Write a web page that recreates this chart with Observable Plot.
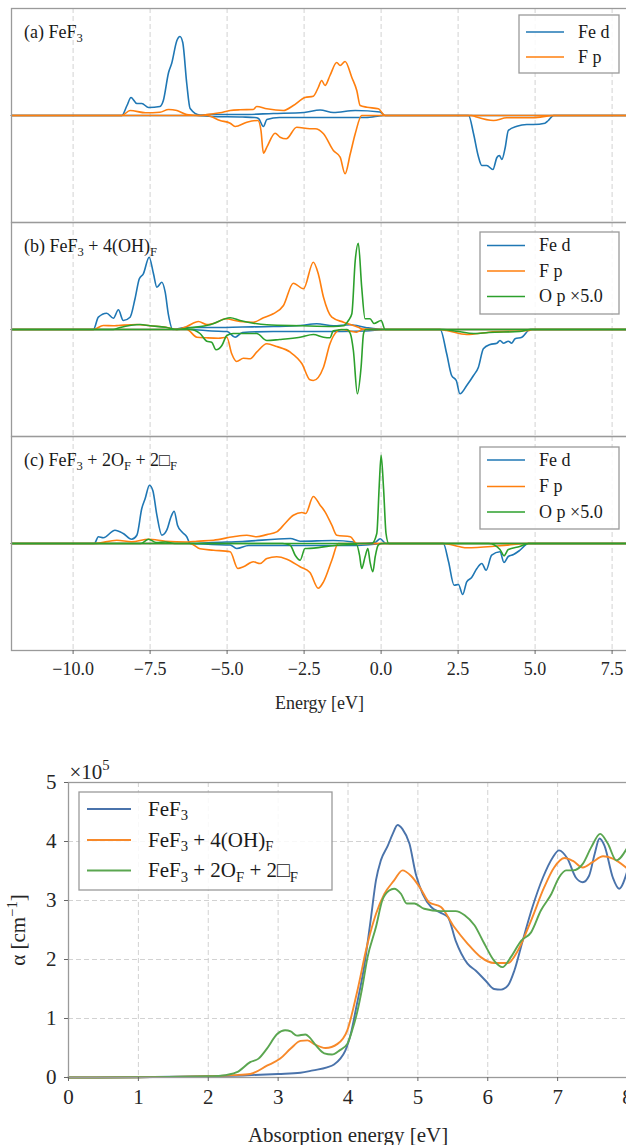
<!DOCTYPE html>
<html><head><meta charset="utf-8">
<script src="https://cdn.jsdelivr.net/npm/d3@7"></script>
<script src="https://cdn.jsdelivr.net/npm/@observablehq/plot@0.6"></script>
<style>
html,body{margin:0;padding:0;background:#fff;overflow:hidden;}
#wrap{position:relative;width:626px;height:1145px;overflow:hidden;background:#fff;}
#wrap svg{position:absolute;left:0;max-width:none !important;overflow:visible !important;}
</style></head><body><div id="wrap"></div>
<script>
const FONT = "'Liberation Serif','DejaVu Serif',serif";

// ---------- DOS panels ----------
const panels = ["a", "b", "c"];
const panelLabels = ["(a) FeF_3", "(b) FeF_3 + 4(OH)_F", "(c) FeF_3 + 2O_F + 2□_F"];
const dosSpecies = ["Fe d", "F p", "O p ×5.0"];
const dosColors = ["#1f77b4", "#ff7f0e", "#2ca02c"];
const dosEnergyTicks = [-10, -7.5, -5, -2.5, 0, 2.5, 5, 7.5];

// [energy eV, PDOS (arb. units); positive = spin up, negative = spin down]
const a_Fe_up = [[-12,0],[-8.42,0],[-8.25,1.0],[-8.12,1.8],[-7.93,1.2],[-7.77,1.2],[-7.55,0.8],[-7.18,0.9],[-7.07,1.5],[-6.9,4.3],[-6.8,5.2],[-6.63,7.5],[-6.53,7.9],[-6.44,7.3],[-6.31,3.2],[-6.2,0.7],[-5.88,0.05],[-5.5,0.1],[-4.5,0.1],[-3.5,0.2],[-2.5,0.3],[-1.98,0.55],[-1.55,0.3],[-0.84,0.5],[-0.03,0.35],[0.13,0],[8,0]];
const a_Fe_dn = [[-12,0],[-6.0,0],[-5.5,-0.1],[-4.5,-0.15],[-4.1,-0.2],[-3.98,-0.3],[-3.82,-1.1],[-3.71,-0.4],[-3.3,-0.2],[-2,-0.2],[-0.5,-0.2],[0.13,0],[2.84,0],[3.0,-1.8],[3.15,-4.0],[3.27,-5.0],[3.43,-5.0],[3.63,-5.4],[3.76,-4.2],[3.84,-4.0],[3.92,-4.4],[4.03,-3.2],[4.13,-1.5],[4.41,-1.07],[4.73,-0.9],[4.95,-0.9],[5.32,-0.77],[5.43,-0.5],[5.6,0],[8,0]];
const a_F_up = [[-12,0],[-8.42,0],[-8.15,0.5],[-7.65,0.27],[-7.18,0.33],[-6.9,0.6],[-6.63,0.5],[-6.31,0.1],[-5.9,0],[-5.66,0.1],[-5.23,0.27],[-4.9,0.5],[-4.58,0.57],[-4.15,0.6],[-4.04,0.9],[-3.71,0.67],[-3.17,0.5],[-2.85,1.0],[-2.47,1.8],[-2.2,1.93],[-2.04,2.8],[-1.93,3.5],[-1.82,3.0],[-1.66,4.0],[-1.44,5.3],[-1.33,5.0],[-1.17,5.4],[-0.95,3.8],[-0.79,2.5],[-0.68,1.0],[-0.46,0.83],[-0.09,0.67],[0.13,0],[8,0]];
const a_F_dn = [[-12,0],[-5.66,0],[-5.23,-0.5],[-4.9,-0.77],[-4.74,-1.1],[-4.36,-0.67],[-4.0,-0.5],[-3.9,-1.5],[-3.82,-3.77],[-3.71,-3.17],[-3.44,-1.77],[-3.28,-2.17],[-3.08,-2.33],[-2.74,-1.17],[-2.31,-1.33],[-2.14,-1.33],[-1.87,-1.83],[-1.55,-3.5],[-1.33,-4.17],[-1.17,-5.83],[-1.0,-3.83],[-0.84,-1.83],[-0.63,0],[2.95,0],[3.05,-0.1],[3.65,-0.5],[4.08,-0.23],[4.94,-0.23],[5.6,0],[8,0]];

const b_Fe_up = [[-12,0],[-9.34,0],[-9.18,1.23],[-8.91,1.63],[-8.69,1.13],[-8.53,1.97],[-8.37,0.9],[-8.15,1.23],[-7.99,3.07],[-7.85,5.07],[-7.72,5.57],[-7.53,7.23],[-7.39,5.57],[-7.28,4.23],[-7.12,4.73],[-7.01,3.73],[-6.91,1.57],[-6.76,0],[-6.36,0.2],[-5.5,0.2],[-4.5,0.25],[-3.5,0.3],[-2.63,0.4],[-2.09,0.57],[-1.55,0.37],[-1.0,0.47],[-0.5,0.2],[0.13,0],[8,0]];
const b_Fe_dn = [[-12,0],[-6.2,0],[-5.5,-0.15],[-5.0,-0.2],[-4.74,-0.77],[-4.5,-0.3],[-3.5,-0.2],[-2,-0.2],[-0.5,-0.15],[0.13,0],[1.92,0],[2.13,-2.43],[2.29,-4.6],[2.44,-5.1],[2.56,-6.43],[2.78,-5.6],[3.0,-4.6],[3.16,-3.77],[3.32,-1.93],[3.54,-1.5],[3.76,-1.37],[3.86,-1.1],[3.97,-1.37],[4.13,-1.17],[4.24,-1.37],[4.35,-0.93],[4.57,-0.77],[4.84,0],[8,0]];
const b_F_up = [[-12,0],[-9.34,0],[-9.02,0.4],[-8.69,0.37],[-8.53,0.4],[-7.93,0.5],[-7.5,0.37],[-6.98,0.23],[-6.63,0],[-6.31,0.3],[-5.93,0.8],[-5.66,0.5],[-5.33,0.73],[-5.06,1.07],[-4.58,0.8],[-4.15,0.73],[-3.82,1.17],[-3.5,1.57],[-3.17,2.4],[-2.85,4.63],[-2.52,4.07],[-2.2,6.73],[-2.04,5.57],[-1.87,3.23],[-1.6,1.23],[-1.22,0.73],[-0.9,0.4],[-0.74,0.23],[-0.6,0.05],[0.13,0],[8,0]];
const b_F_dn = [[-12,0],[-6.31,0],[-5.98,-0.77],[-5.66,-0.83],[-5.28,-0.87],[-5.01,-0.77],[-4.85,-2.43],[-4.69,-3.2],[-4.47,-2.87],[-4.25,-2.93],[-4.04,-2.27],[-3.71,-1.43],[-3.39,-1.7],[-2.95,-2.27],[-2.57,-3.43],[-2.31,-5.03],[-2.2,-5.1],[-1.87,-3.77],[-1.66,-1.43],[-1.44,-0.2],[-1.3,0],[-0.8,-0.27],[-0.6,0],[1.92,0],[2.13,-0.1],[2.78,-0.5],[3.5,-0.27],[4.8,-0.1],[4.9,0],[8,0]];
const b_O_up = [[-12,0],[-8.7,0],[-8.5,0.17],[-7.82,0.5],[-7.5,0.37],[-7.0,0.23],[-6.63,0],[-6.2,0.17],[-5.55,0.47],[-4.9,1.17],[-4.58,0.9],[-4.15,0.63],[-3.71,0.47],[-2.6,0.37],[-1.55,0.3],[-1.22,0.37],[-1.06,0.9],[-0.95,1.57],[-0.84,6.9],[-0.74,8.63],[-0.63,4.23],[-0.52,1.07],[-0.36,1.07],[-0.23,0.6],[0.0,0.9],[0.13,0],[8,0]];
const b_O_dn = [[-12,0],[-6.2,0],[-5.88,-0.4],[-5.66,-1.17],[-5.5,-1.27],[-5.36,-2.03],[-5.17,-1.6],[-5.01,-0.6],[-4.8,-0.4],[-4.04,-0.4],[-3.71,-1.1],[-3.3,-1.0],[-2.63,-0.77],[-2.2,-0.5],[-1.87,-0.77],[-1.66,-0.83],[-1.55,-0.13],[-1.11,0],[-1.0,-0.4],[-0.9,-2.1],[-0.77,-6.43],[-0.65,-3.77],[-0.57,-0.4],[-0.5,0],[2.0,0],[2.5,-0.2],[3.0,-0.4],[3.5,-0.3],[4.5,-0.2],[4.84,0],[8,0]];

const c_Fe_up = [[-12,0],[-9.31,0],[-9.18,0.67],[-9.02,0.57],[-8.64,1.33],[-8.37,1.0],[-8.1,0.43],[-7.93,0.83],[-7.77,3.5],[-7.66,4.5],[-7.52,5.83],[-7.41,5.27],[-7.28,2.83],[-7.12,0.83],[-6.96,1.33],[-6.82,2.67],[-6.72,3.23],[-6.61,1.83],[-6.47,1.17],[-6.31,0.67],[-6.2,0],[-5.5,0.1],[-4.5,0.2],[-2.95,0.5],[-2.63,0.23],[-1.55,0.3],[-0.9,0.15],[-0.8,0],[-0.2,0.1],[-0.03,0.47],[0.16,0],[8,0]];
const c_Fe_dn = [[-12,0],[-6.2,0],[-5.5,-0.1],[-4.9,-0.15],[-4.69,-0.5],[-4.3,-0.2],[-3,-0.2],[-1,-0.2],[-0.5,-0.15],[0.16,0],[2.02,0],[2.19,-1.83],[2.37,-4.17],[2.51,-4.1],[2.65,-5.1],[2.78,-3.83],[2.94,-3.4],[3.11,-2.5],[3.27,-2.0],[3.41,-2.67],[3.59,-1.17],[3.86,-0.83],[3.99,-1.9],[4.13,-1.3],[4.3,-1.1],[4.51,-0.67],[4.78,0],[8,0]];
const c_F_up = [[-12,0],[-9.31,0],[-8.58,0.33],[-8.1,0.17],[-7.55,0.43],[-7.0,0.23],[-6.3,0.15],[-5.98,0.23],[-5.44,0.33],[-4.8,0.67],[-4.36,0.83],[-4.04,0.67],[-3.71,0.89],[-3.39,1.16],[-3.12,2.0],[-2.85,2.83],[-2.57,3.1],[-2.45,3.0],[-2.2,4.7],[-1.98,3.83],[-1.82,3.17],[-1.6,1.83],[-1.44,0.83],[-1.0,0.67],[-0.79,0],[8,0]];
const c_F_dn = [[-12,0],[-6.2,0],[-5.88,-0.53],[-5.44,-0.67],[-4.9,-0.83],[-4.65,-2.5],[-4.47,-2.33],[-4.15,-1.83],[-3.93,-2.0],[-3.71,-1.5],[-3.39,-1.33],[-3.06,-1.57],[-2.63,-2.33],[-2.31,-2.9],[-2.04,-4.47],[-1.87,-3.83],[-1.6,-1.67],[-1.39,0],[2.02,0],[2.56,-0.33],[2.78,-0.43],[3.86,-0.23],[4.78,0],[8,0]];
const c_O_up = [[-12,0],[-7.8,0],[-7.55,0.43],[-7.3,0.1],[-7.0,0.15],[-6.7,0],[-0.3,0],[-0.14,1.0],[-0.06,5.83],[0.0,8.83],[0.08,5.5],[0.16,1.0],[0.25,0],[8,0]];
const c_O_dn = [[-12,0],[-3.2,0],[-2.95,-0.17],[-2.79,-1.17],[-2.63,-1.67],[-2.47,-0.5],[-2.41,-0.5],[-1.5,-0.2],[-0.8,-0.1],[-0.7,-1.17],[-0.63,-2.5],[-0.52,-1.33],[-0.43,-0.5],[-0.36,-1.83],[-0.27,-2.83],[-0.19,-1.3],[-0.1,-0.2],[0,0],[3.5,0],[3.86,-0.6],[3.99,-1.23],[4.13,-0.6],[4.5,-0.3],[4.78,0],[8,0]];

// ---------- Absorption ----------
const absLabels = ["FeF_3", "FeF_3 + 4(OH)_F", "FeF_3 + 2O_F + 2□_F"];
const absColors = ["#4a73ab", "#f7892a", "#5aa650"];
const absTicksX = [0, 1, 2, 3, 4, 5, 6, 7, 8];
const absTicksY = [0, 1, 2, 3, 4, 5];
// [energy eV, alpha in 1e5 cm^-1]
const abs_FeF3 = [[0,0],[1,0.005],[2,0.02],[2.5,0.035],[3.0,0.06],[3.32,0.08],[3.5,0.12],[3.7,0.17],[3.8,0.22],[3.89,0.32],[3.96,0.45],[4.04,0.74],[4.12,1.2],[4.23,1.87],[4.33,2.72],[4.4,3.34],[4.47,3.68],[4.57,3.93],[4.64,4.13],[4.71,4.28],[4.78,4.21],[4.88,3.96],[4.97,3.45],[5.07,3.11],[5.19,2.89],[5.31,2.8],[5.43,2.72],[5.54,2.32],[5.71,1.93],[5.83,1.81],[5.97,1.64],[6.09,1.5],[6.19,1.49],[6.29,1.56],[6.38,1.81],[6.5,2.32],[6.64,2.89],[6.79,3.39],[6.93,3.73],[7.02,3.85],[7.14,3.71],[7.26,3.39],[7.36,3.31],[7.45,3.42],[7.53,3.79],[7.6,4.05],[7.67,3.93],[7.79,3.39],[7.88,3.2],[8.0,3.51]];
const abs_OH = [[0,0],[1,0.005],[2,0.02],[2.37,0.04],[2.6,0.06],[2.84,0.2],[3.03,0.32],[3.18,0.49],[3.32,0.62],[3.42,0.63],[3.51,0.57],[3.68,0.5],[3.85,0.57],[3.99,0.8],[4.13,1.45],[4.28,2.27],[4.4,2.77],[4.52,3.11],[4.66,3.34],[4.78,3.51],[4.9,3.42],[5.04,3.2],[5.16,2.97],[5.33,2.89],[5.52,2.55],[5.71,2.27],[5.9,2.04],[6.09,1.94],[6.29,1.94],[6.43,2.15],[6.62,2.66],[6.81,3.23],[6.95,3.56],[7.1,3.72],[7.22,3.67],[7.36,3.56],[7.5,3.65],[7.65,3.75],[7.79,3.71],[8.0,3.54]];
const abs_O2 = [[0,0],[1,0.005],[2,0.02],[2.18,0.03],[2.41,0.09],[2.6,0.26],[2.72,0.32],[2.84,0.49],[2.99,0.74],[3.1,0.8],[3.18,0.78],[3.27,0.71],[3.39,0.73],[3.45,0.68],[3.55,0.53],[3.66,0.41],[3.77,0.39],[3.88,0.46],[3.99,0.57],[4.06,0.8],[4.13,1.1],[4.2,1.5],[4.28,2.04],[4.4,2.55],[4.49,3.0],[4.59,3.17],[4.66,3.2],[4.76,3.11],[4.84,2.95],[4.95,2.95],[5.09,2.86],[5.33,2.82],[5.54,2.82],[5.67,2.75],[5.81,2.58],[5.95,2.27],[6.09,1.98],[6.21,1.87],[6.33,2.04],[6.48,2.32],[6.62,2.46],[6.76,2.83],[6.91,3.11],[7.02,3.39],[7.12,3.51],[7.22,3.51],[7.36,3.62],[7.48,3.9],[7.61,4.13],[7.72,3.96],[7.84,3.68],[7.99,3.88]];

// ---------- build tables ----------
const dosCurves = [
  ["a","Fe d","up",a_Fe_up],["a","Fe d","dn",a_Fe_dn],["b","Fe d","up",b_Fe_up],["b","Fe d","dn",b_Fe_dn],["c","Fe d","up",c_Fe_up],["c","Fe d","dn",c_Fe_dn],
  ["a","F p","up",a_F_up],["a","F p","dn",a_F_dn],["b","F p","up",b_F_up],["b","F p","dn",b_F_dn],["c","F p","up",c_F_up],["c","F p","dn",c_F_dn],
  ["b","O p ×5.0","up",b_O_up],["b","O p ×5.0","dn",b_O_dn],["c","O p ×5.0","up",c_O_up],["c","O p ×5.0","dn",c_O_dn]
];
const dosRows = dosCurves.flatMap(([panel, species, spin, pts]) =>
  pts.map(([E, v]) => ({panel, species, key: panel + species + spin, E, v})));
const absSeries = [abs_FeF3, abs_OH, abs_O2];
const absRows = absSeries.flatMap((pts, i) => pts.map(([E, a]) => ({series: absLabels[i], E, a})));

const wrap = document.getElementById("wrap");
const grid = {stroke: "#d2d2d2", strokeOpacity: 1, strokeWidth: 1, strokeDasharray: "5,3"};
const frameStyle = {stroke: "#9a9a9a", strokeWidth: 1.3};

const dosPlot = Plot.plot({
  width: 640, height: 726,
  marginLeft: 11, marginRight: 13, marginTop: 7, marginBottom: 75,
  style: {fontFamily: FONT, fontSize: "18px", color: "#262626", background: "transparent", overflow: "visible"},
  x: {domain: [-12, 8]},
  y: {domain: [-10.7, 10.7], axis: null},
  fy: {domain: panels, padding: 0, axis: null},
  color: {domain: dosSpecies, range: dosColors},
  marks: [
    Plot.gridX(dosEnergyTicks, grid),
    Plot.line(dosRows, {x: "E", y: "v", z: "key", stroke: "species", fy: "panel", curve: "monotone-x", strokeWidth: 1.6}),
    Plot.frame(frameStyle),
    Plot.text(panels.map((p, i) => ({panel: p, label: panelLabels[i]})),
      {fy: "panel", text: "label", frameAnchor: "top-left", textAnchor: "start", lineAnchor: "top", dx: 12.5, dy: 17, fill: "#1a1a1a"}),
    Plot.axisX(dosEnergyTicks, {tickSize: 4, tickPadding: 8, tickFormat: d3.format(".1f"), stroke: "#666", fill: "#262626",
      label: "Energy [eV]", labelAnchor: "center", labelArrow: "none", labelOffset: 58})
  ]
});
dosPlot.style.top = "0px";
wrap.appendChild(dosPlot);

const absPlot = Plot.plot({
  width: 640, height: 418,
  marginLeft: 68, marginRight: 13, marginTop: 42, marginBottom: 81,
  style: {fontFamily: FONT, fontSize: "21px", color: "#262626", background: "transparent", overflow: "visible"},
  x: {domain: [0, 8]},
  y: {domain: [0, 5]},
  color: {domain: absLabels, range: absColors},
  marks: [
    Plot.gridX(absTicksX, grid),
    Plot.gridY(absTicksY, grid),
    Plot.line(absRows, {x: "E", y: "a", stroke: "series", curve: "monotone-x", strokeWidth: 1.9}),
    Plot.frame(frameStyle),
    Plot.axisX(absTicksX, {tickSize: 4, tickPadding: 8, tickFormat: d => String(d), stroke: "#666", fill: "#262626",
      label: "Absorption energy [eV]", labelAnchor: "center", labelArrow: "none", labelOffset: 64}),
    Plot.axisY(absTicksY, {tickSize: 4, tickPadding: 8, tickFormat: d => String(d), stroke: "#666", fill: "#262626",
      label: "α [cm^{−1}]", labelAnchor: "center", labelArrow: "none", labelOffset: 58}),
    Plot.text(["×10^5"], {text: d => d, frameAnchor: "top-left", textAnchor: "start", lineAnchor: "bottom", dx: 1, dy: -4, fill: "#262626"})
  ]
});
absPlot.style.top = "740px";
wrap.appendChild(absPlot);

// ---------- legends (overlay) ----------
const ov = d3.create("svg").attr("width", 626).attr("height", 1145)
  .style("position", "absolute").style("left", "0px").style("top", "0px")
  .style("font-family", FONT);
function legend({x, y, w, h, rowsY, sx1, sx2, tx, fs, labels, colors, sw}) {
  const g = ov.append("g");
  g.append("rect").attr("x", x).attr("y", y).attr("width", w).attr("height", h)
    .attr("fill", "#fff").attr("fill-opacity", 0.85).attr("stroke", "#9a9a9a").attr("stroke-width", 1.3);
  labels.forEach((lab, i) => {
    g.append("line").attr("x1", sx1).attr("x2", sx2).attr("y1", rowsY[i]).attr("y2", rowsY[i])
      .attr("stroke", colors[i]).attr("stroke-width", sw);
    g.append("text").attr("x", tx).attr("y", rowsY[i] + 0.32 * fs).attr("font-size", fs).attr("fill", "#1a1a1a").text(lab);
  });
}
legend({x: 519, y: 15, w: 100, h: 58, rowsY: [32, 57], sx1: 526, sx2: 564, tx: 578, fs: 18, labels: dosSpecies.slice(0, 2), colors: dosColors, sw: 1.6});
legend({x: 480, y: 232, w: 139, h: 82, rowsY: [245.5, 271, 296.5], sx1: 487, sx2: 525, tx: 539, fs: 18, labels: dosSpecies, colors: dosColors, sw: 1.6});
legend({x: 480, y: 447, w: 139, h: 82, rowsY: [460, 486.5, 512], sx1: 487, sx2: 525, tx: 539, fs: 18, labels: dosSpecies, colors: dosColors, sw: 1.6});
legend({x: 79, y: 792, w: 253, h: 98, rowsY: [809, 840, 870.5], sx1: 87, sx2: 131, tx: 148, fs: 21, labels: absLabels, colors: absColors, sw: 1.9});
wrap.appendChild(ov.node());

// ---------- sub/superscript markup ----------
const NS = "http://www.w3.org/2000/svg";
function richify(el) {
  const s = el.textContent;
  if (!/[_^]/.test(s) || el.children.length) return;
  const fs = parseFloat(getComputedStyle(el).fontSize) || 18;
  const parts = s.split(/([_^](?:\{[^}]*\}|.))/u);
  el.textContent = "";
  let shift = 0;
  for (const p of parts) {
    if (!p) continue;
    const t = document.createElementNS(NS, "tspan");
    if (p[0] === "_" || p[0] === "^") {
      const d = p[0] === "_" ? 0.22 * fs : -0.42 * fs;
      t.setAttribute("font-size", (0.7 * fs).toFixed(1));
      t.setAttribute("dy", (d - shift).toFixed(2));
      shift = d;
      t.textContent = p.slice(1).replace(/[{}]/g, "");
    } else {
      if (shift) { t.setAttribute("dy", (-shift).toFixed(2)); shift = 0; }
      t.textContent = p;
    }
    el.appendChild(t);
  }
}
wrap.querySelectorAll("text").forEach(richify);
</script></body></html>
